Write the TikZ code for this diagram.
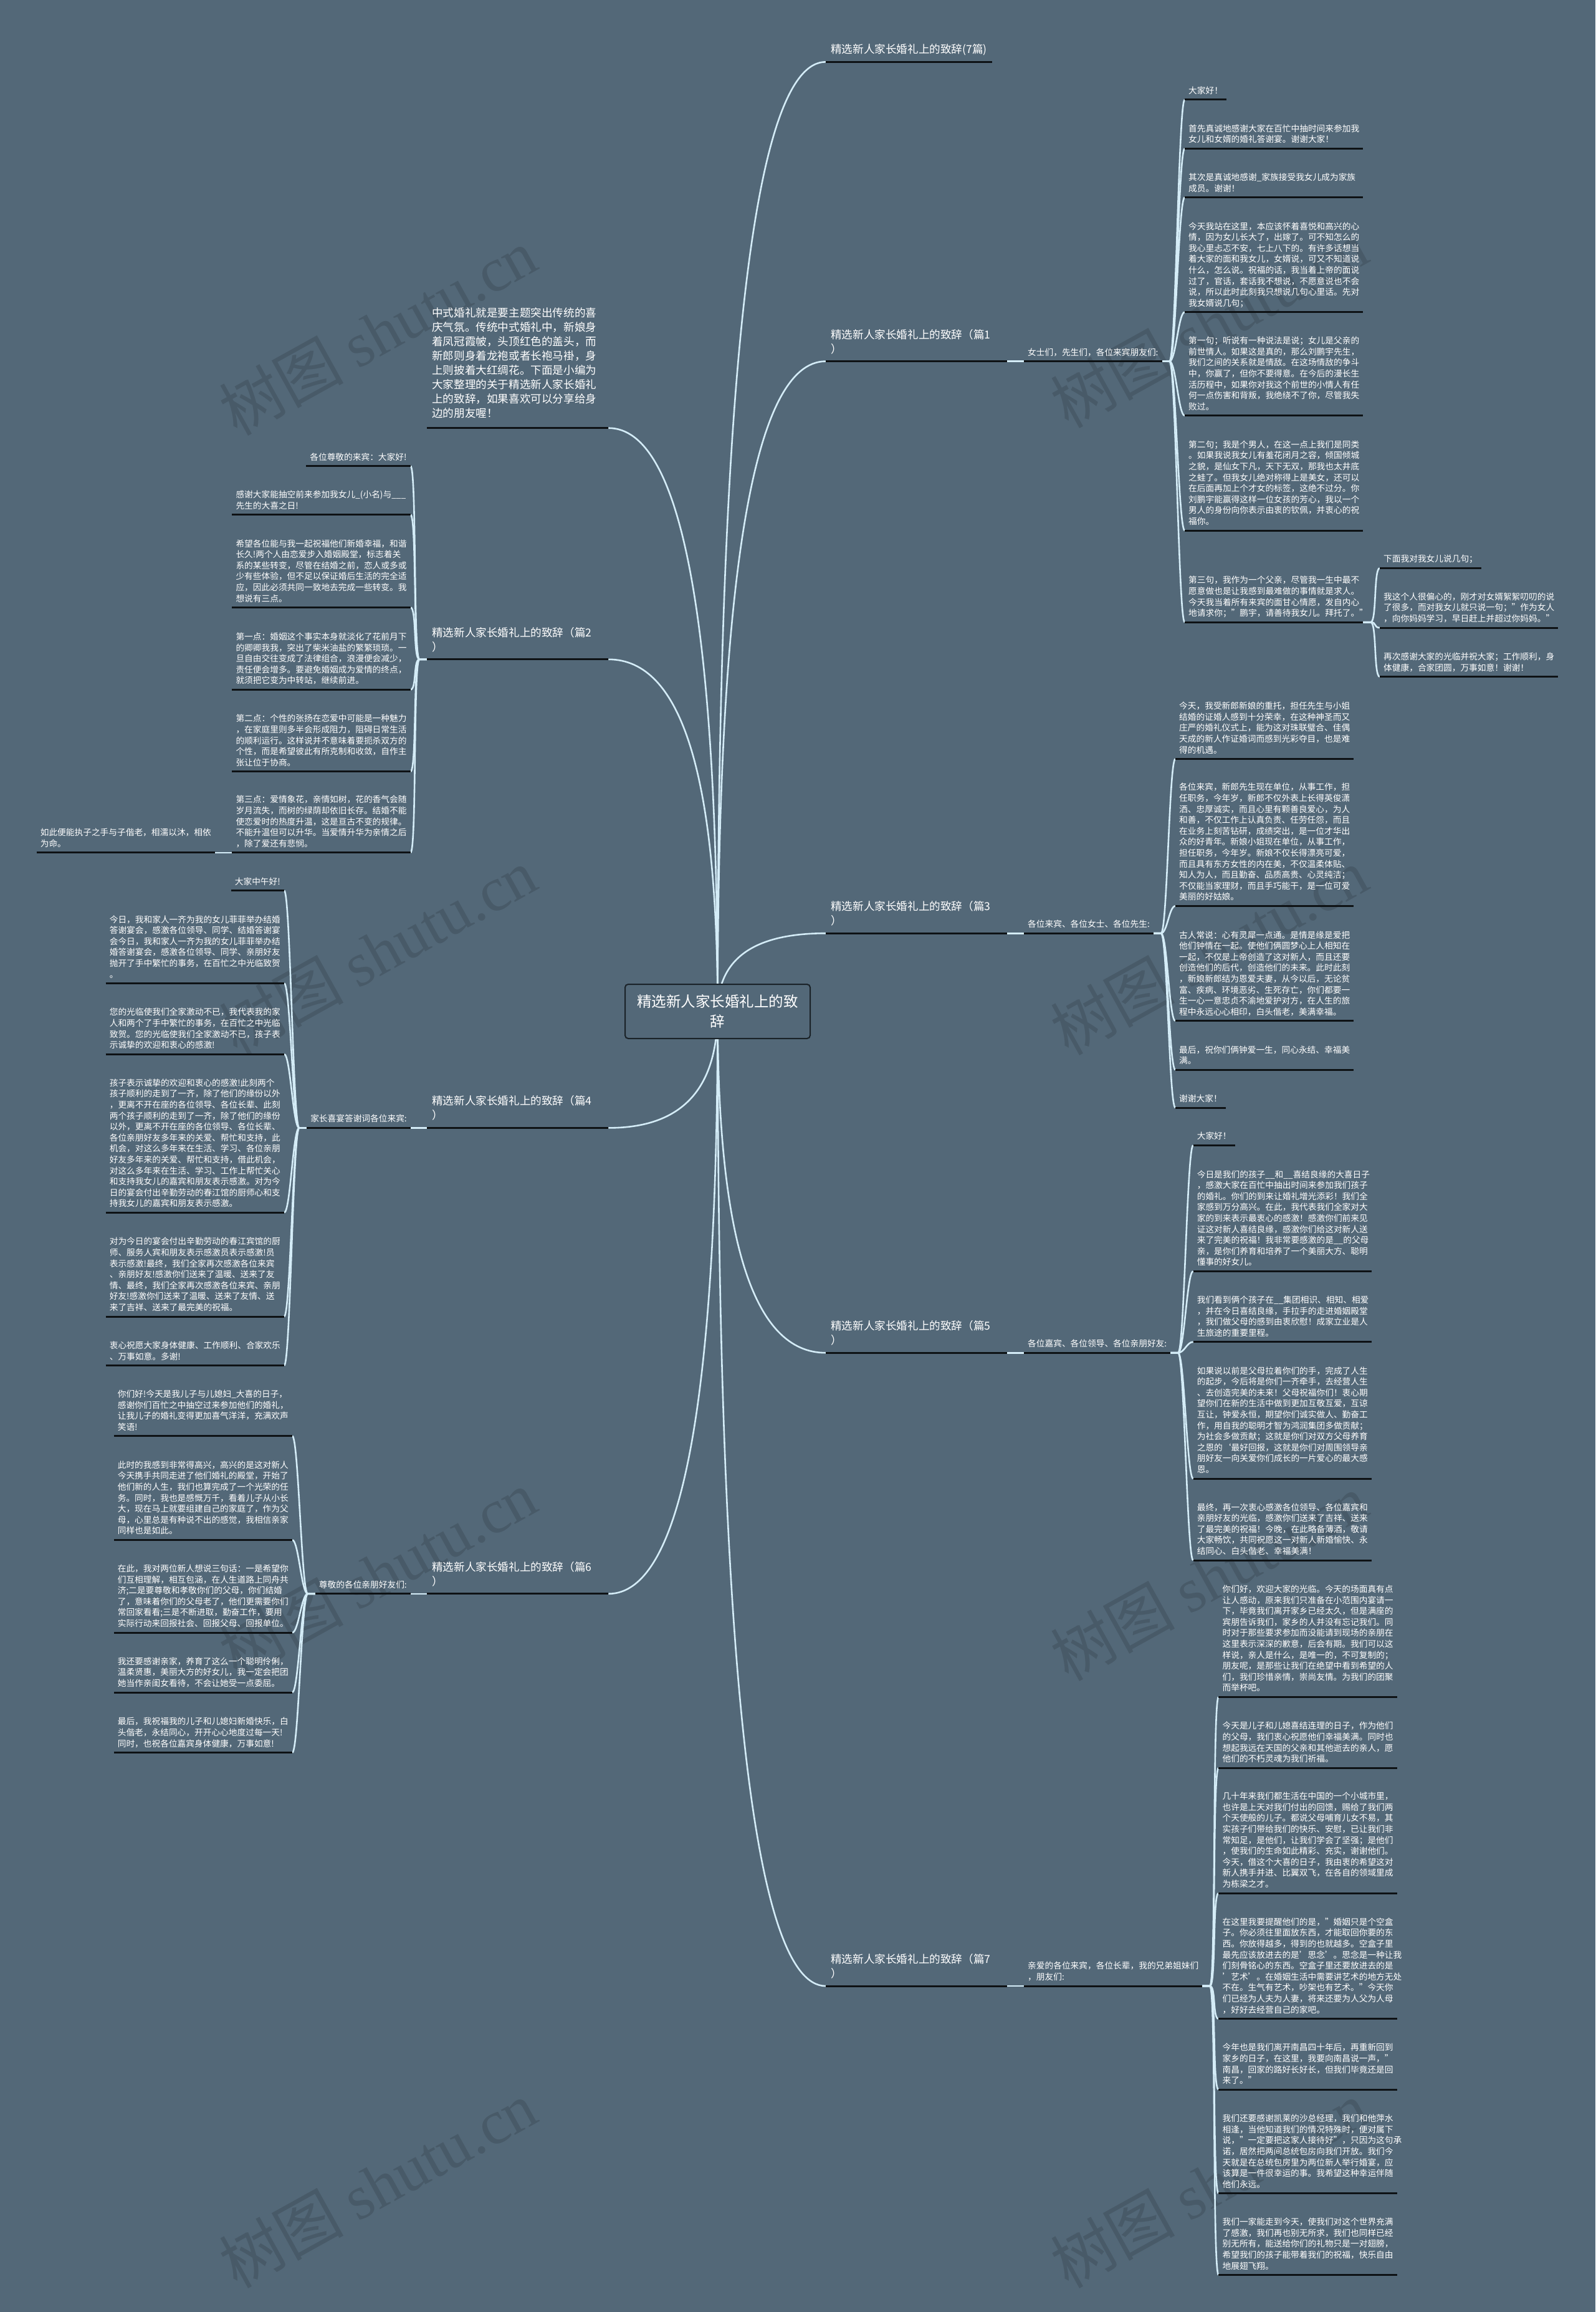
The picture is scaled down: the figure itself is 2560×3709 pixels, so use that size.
\documentclass[tikz,border=0pt]{standalone}
\usepackage{fontspec}
\setmainfont{Noto Sans CJK SC}
\newfontfamily\markserif{Liberation Serif}
\usetikzlibrary{calc,backgrounds}
\definecolor{Canvas}{HTML}{536878}
\definecolor{Wire}{HTML}{D4ECF7}
\definecolor{Ink}{HTML}{0E1215}
\definecolor{RootEdge}{HTML}{1A2228}
\newcommand\leaffont{\fontsize{13.7pt}{17.6pt}\selectfont}
\newcommand\branchfont{\fontsize{17.6pt}{23pt}\selectfont}
\newcommand\rootfont{\fontsize{23.5pt}{31.7pt}\selectfont}
\newcommand\markfont{\fontsize{100pt}{100pt}\selectfont}
\newcommand\leafdp{\rule[-9.3pt]{0pt}{9.3pt}}
\newcommand\branchdp{\rule[-13.3pt]{0pt}{13.3pt}}
\newcommand\introdp{\rule[-16.6pt]{0pt}{16.6pt}}
\tikzset{
  note/.style={align=left, inner xsep=6pt, inner ysep=0pt, text=white, font=\leaffont, execute at end node=\leafdp},
  leaf/.style={note, text width=274pt},
  topic/.style={align=left, inner xsep=8pt, inner ysep=0pt, text=white, font=\branchfont, execute at end node=\branchdp},
  topicw/.style={topic, text width=275pt},
  wire/.style={draw=Wire, line width=2.6pt},
  uline/.style={draw=Ink, line width=3pt},
  wmark/.style={text=black, text opacity=.13, font=\markfont}
}
\begin{document}
\begin{tikzpicture}[x=1pt, y=-1pt]
\useasboundingbox (0,0) rectangle (2560,3709);
\node[draw=RootEdge, fill=Canvas, line width=2pt, rounded corners=5pt, minimum width=297pt, minimum height=87pt, inner sep=0pt, align=center, text=white, font=\rootfont] (root) at (1151.5,1622.5) {精选新人家长婚礼上的致\\辞};

\node[topic, anchor=south west] (b0) at (1325,99.3) {精选新人家长婚礼上的致辞(7篇)};
\node[topicw, anchor=south west] (b1) at (1325,579.6) {精选新人家长婚礼上的致辞（篇1\\）};
\node[topicw, anchor=south west] (b3) at (1325,1497.2) {精选新人家长婚礼上的致辞（篇3\\）};
\node[topicw, anchor=south west] (b5) at (1325,2170.2) {精选新人家长婚礼上的致辞（篇5\\）};
\node[topicw, anchor=south west] (b7) at (1325,3186) {精选新人家长婚礼上的致辞（篇7\\）};
\node[topicw, anchor=south west, execute at end node=\introdp] (intro) at (685,686.7) {中式婚礼就是要主题突出传统的喜\\庆气氛。传统中式婚礼中，新娘身\\着凤冠霞帔，头顶红色的盖头，而\\新郎则身着龙袍或者长袍马褂，身\\上则披着大红绸花。下面是小编为\\大家整理的关于精选新人家长婚礼\\上的致辞，如果喜欢可以分享给身\\边的朋友喔！};
\node[topicw, anchor=south west] (b2) at (685,1057.8) {精选新人家长婚礼上的致辞（篇2\\）};
\node[topicw, anchor=south west] (b4) at (685,1809.4) {精选新人家长婚礼上的致辞（篇4\\）};
\node[topicw, anchor=south west] (b6) at (685,2556.8) {精选新人家长婚礼上的致辞（篇6\\）};

\node[note, anchor=south west] (h1) at (1643,579.6) {女士们，先生们，各位来宾朋友们:};
\node[note, anchor=south west] (h3) at (1643,1497.2) {各位来宾、各位女士、各位先生:};
\node[note, anchor=south west] (h5) at (1643,2170.2) {各位嘉宾、各位领导、各位亲朋好友:};
\node[leaf, anchor=south west] (h7) at (1643,3186) {亲爱的各位来宾，各位长辈，我的兄弟姐妹们\\，朋友们:};
\node[note, anchor=south east] (g4) at (659,1809.4) {家长喜宴答谢词各位来宾:};
\node[note, anchor=south east] (g6) at (659,2556.8) {尊敬的各位亲朋好友们:};

\node[note, anchor=south west] (a1) at (1901,160) {大家好！};
\node[leaf, anchor=south west] (a2) at (1901,238.3) {首先真诚地感谢大家在百忙中抽时间来参加我\\女儿和女婿的婚礼答谢宴。谢谢大家！};
\node[leaf, anchor=south west] (a3) at (1901,316.7) {其次是真诚地感谢\_家族接受我女儿成为家族\\成员。谢谢！};
\node[leaf, anchor=south west] (a4) at (1901,500.7) {今天我站在这里，本应该怀着喜悦和高兴的心\\情，因为女儿长大了，出嫁了。可不知怎么的\\我心里忐忑不安，七上八下的。有许多话想当\\着大家的面和我女儿，女婿说，可又不知道说\\什么，怎么说。祝福的话，我当着上帝的面说\\过了，官话，套话我不想说，不愿意说也不会\\说，所以此时此刻我只想说几句心里话。先对\\我女婿说几句；};
\node[leaf, anchor=south west] (a5) at (1901,666.8) {第一句；听说有一种说法是说；女儿是父亲的\\前世情人。如果这是真的，那么刘鹏宇先生，\\我们之间的关系就是情敌。在这场情敌的争斗\\中，你赢了，但你不要得意。在今后的漫长生\\活历程中，如果你对我这个前世的小情人有任\\何一点伤害和背叛，我绝绕不了你，尽管我失\\败过。};
\node[leaf, anchor=south west] (a6) at (1901,851) {第二句；我是个男人，在这一点上我们是同类\\。如果我说我女儿有羞花闭月之容，倾国倾城\\之貌，是仙女下凡，天下无双，那我也太井底\\之蛙了。但我女儿绝对称得上是美女，还可以\\在后面再加上个才女的标签，这绝不过分。你\\刘鹏宇能赢得这样一位女孩的芳心，我以一个\\男人的身份向你表示由衷的钦佩，并衷心的祝\\福你。};
\node[leaf, anchor=south west] (a7) at (1901,998.2) {第三句，我作为一个父亲，尽管我一生中最不\\愿意做也是让我感到最难做的事情就是求人。\\今天我当着所有来宾的面甘心情愿，发自内心\\地请求你；"鹏宇，请善待我女儿。拜托了。"};
\node[note, anchor=south west] (a8) at (2214,911.4) {下面我对我女儿说几句；};
\node[leaf, anchor=south west] (a9) at (2214,1007) {我这个人很偏心的，刚才对女婿絮絮叨叨的说\\了很多，而对我女儿就只说一句；"作为女人\\，向你妈妈学习，早日赶上并超过你妈妈。"};
\node[leaf, anchor=south west] (a10) at (2214,1085.7) {再次感谢大家的光临并祝大家；工作顺利，身\\体健康，合家团圆，万事如意！谢谢！};

\node[leaf, anchor=south west] (c1) at (1886,1217.5) {今天，我受新郎新娘的重托，担任先生与小姐\\结婚的证婚人感到十分荣幸，在这种神圣而又\\庄严的婚礼仪式上，能为这对珠联璧合、佳偶\\天成的新人作证婚词而感到光彩夺目，也是难\\得的机遇。};
\node[leaf, anchor=south west] (c2) at (1886,1453.4) {各位来宾，新郎先生现在单位，从事工作，担\\任职务，今年岁，新郎不仅外表上长得英俊潇\\洒、忠厚诚实，而且心里有颗善良爱心，为人\\和善，不仅工作上认真负责、任劳任怨，而且\\在业务上刻苦钻研，成绩突出，是一位才华出\\众的好青年。新娘小姐现在单位，从事工作，\\担任职务，今年岁。新娘不仅长得漂亮可爱，\\而且具有东方女性的内在美，不仅温柔体贴、\\知人为人，而且勤奋、品质高贵、心灵纯洁；\\不仅能当家理财，而且手巧能干，是一位可爱\\美丽的好姑娘。};
\node[leaf, anchor=south west] (c3) at (1886,1637.8) {古人常说：心有灵犀一点通。是情是缘是爱把\\他们钟情在一起。使他们俩圆梦心上人相知在\\一起，不仅是上帝创造了这对新人，而且还要\\创造他们的后代，创造他们的未来。此时此刻\\，新娘新郎结为恩爱夫妻，从今以后，无论贫\\富、疾病、环境恶劣、生死存亡，你们都要一\\生一心一意忠贞不渝地爱护对方，在人生的旅\\程中永远心心相印，白头偕老，美满幸福。};
\node[leaf, anchor=south west] (c4) at (1886,1716.2) {最后，祝你们俩钟爱一生，同心永结、幸福美\\满。};
\node[note, anchor=south west] (c5) at (1886,1777) {谢谢大家！};

\node[note, anchor=south west] (d1) at (1914.6,1837.3) {大家好！};
\node[leaf, anchor=south west] (d2) at (1914.6,2039.3) {今日是我们的孩子\_\_和\_\_喜结良缘的大喜日子\\，感激大家在百忙中抽出时间来参加我们孩子\\的婚礼。你们的到来让婚礼增光添彩！我们全\\家感到万分高兴。在此，我代表我们全家对大\\家的到来表示最衷心的感激！感激你们前来见\\证这对新人喜结良缘，感激你们给这对新人送\\来了完美的祝福！我非常要感激的是\_\_的父母\\亲，是你们养育和培养了一个美丽大方、聪明\\懂事的好女儿。};
\node[leaf, anchor=south west] (d3) at (1914.6,2152.7) {我们看到俩个孩子在\_\_集团相识、相知、相爱\\，并在今日喜结良缘，手拉手的走进婚姻殿堂\\，我们做父母的感到由衷欣慰！成家立业是人\\生旅途的重要里程。};
\node[leaf, anchor=south west] (d4) at (1914.6,2372) {如果说以前是父母拉着你们的手，完成了人生\\的起步，今后将是你们一齐牵手，去经营人生\\、去创造完美的未来！父母祝福你们！衷心期\\望你们在新的生活中做到更加互敬互爱，互谅\\互让，钟爱永恒，期望你们诚实做人、勤奋工\\作，用自我的聪明才智为鸿润集团多做贡献；\\为社会多做贡献；这就是你们对双方父母养育\\之恩的`最好回报，这就是你们对周围领导亲\\朋好友一向关爱你们成长的一片爱心的最大感\\恩。};
\node[leaf, anchor=south west] (d5) at (1914.6,2503) {最终，再一次衷心感激各位领导、各位嘉宾和\\亲朋好友的光临，感激你们送来了吉祥、送来\\了最完美的祝福！今晚，在此略备薄酒，敬请\\大家畅饮，共同祝愿这一对新人新婚愉快、永\\结同心、白头偕老、幸福美满！};

\node[leaf, anchor=south west] (e1) at (1955.4,2722.3) {你们好，欢迎大家的光临。今天的场面真有点\\让人感动，原来我们只准备在小范围内宴请一\\下，毕竟我们离开家乡已经太久，但是满座的\\宾朋告诉我们，家乡的人并没有忘记我们。同\\时对于那些要求参加而没能请到现场的亲朋在\\这里表示深深的歉意，后会有期。我们可以这\\样说，亲人是什么，是唯一的，不可复制的；\\朋友呢，是那些让我们在绝望中看到希望的人\\们，我们珍惜亲情，崇尚友情。为我们的团聚\\而举杯吧。};
\node[leaf, anchor=south west] (e2) at (1955.4,2836.2) {今天是儿子和儿媳喜结连理的日子，作为他们\\的父母，我们衷心祝愿他们幸福美满。同时也\\想起我远在天国的父亲和其他逝去的亲人，愿\\他们的不朽灵魂为我们祈福。};
\node[leaf, anchor=south west] (e3) at (1955.4,3037) {几十年来我们都生活在中国的一个小城市里，\\也许是上天对我们付出的回馈，赐给了我们两\\个天使般的儿子。都说父母哺育儿女不易，其\\实孩子们带给我们的快乐、安慰，已让我们非\\常知足，是他们，让我们学会了坚强；是他们\\，使我们的生命如此精彩、充实，谢谢他们。\\今天，借这个大喜的日子，我由衷的希望这对\\新人携手并进、比翼双飞，在各自的领域里成\\为栋梁之才。};
\node[leaf, anchor=south west] (e4) at (1955.4,3238.6) {在这里我要提醒他们的是，"婚姻只是个空盒\\子。你必须往里面放东西，才能取回你要的东\\西。你放得越多，得到的也就越多。空盒子里\\最先应该放进去的是'思念'。思念是一种让我\\们刻骨铭心的东西。空盒子里还要放进去的是\\'艺术'。在婚姻生活中需要讲艺术的地方无处\\不在。生气有艺术，吵架也有艺术。"今天你\\们已经为人夫为人妻，将来还要为人父为人母\\，好好去经营自己的家吧。};
\node[leaf, anchor=south west] (e5) at (1955.4,3352.2) {今年也是我们离开南昌四十年后，再重新回到\\家乡的日子，在这里，我要向南昌说一声，"\\南昌，回家的路好长好长，但我们毕竟还是回\\来了。"};
\node[leaf, anchor=south west] (e6) at (1955.4,3518.8) {我们还要感谢凯莱的沙总经理，我们和他萍水\\相逢，当他知道我们的情况特殊时，便对属下\\说，"一定要把这家人接待好"，只因为这句承\\诺，居然把两间总统包房向我们开放。我们今\\天就是在总统包房里为两位新人举行婚宴，应\\该算是一件很幸运的事。我希望这种幸运伴随\\他们永远。};
\node[leaf, anchor=south west] (e7) at (1955.4,3649.6) {我们一家能走到今天，使我们对这个世界充满\\了感激，我们再也别无所求，我们也同样已经\\别无所有，能送给你们的礼物只是一对翅膀，\\希望我们的孩子能带着我们的祝福，快乐自由\\地展翅飞翔。};

\node[note, anchor=south east] (l1) at (658.7,747.7) {各位尊敬的来宾：大家好!};
\node[leaf, anchor=south east] (l2) at (658.7,825.8) {感谢大家能抽空前来参加我女儿\_(小名)与\_\_\_\\先生的大喜之日!};
\node[leaf, anchor=south east] (l3) at (658.7,974.5) {希望各位能与我一起祝福他们新婚幸福，和谐\\长久!两个人由恋爱步入婚姻殿堂，标志着关\\系的某些转变，尽管在结婚之前，恋人或多或\\少有些体验，但不足以保证婚后生活的完全适\\应，因此必须共同一致地去完成一些转变。我\\想说有三点。};
\node[leaf, anchor=south east] (l4) at (658.7,1106.3) {第一点：婚姻这个事实本身就淡化了花前月下\\的卿卿我我，突出了柴米油盐的繁繁琐琐。一\\旦自由交往变成了法律组合，浪漫便会减少，\\责任便会增多。要避免婚姻成为爱情的终点，\\就须把它变为中转站，继续前进。};
\node[leaf, anchor=south east] (l5) at (658.7,1237.7) {第二点：个性的张扬在恋爱中可能是一种魅力\\，在家庭里则多半会形成阻力，阻碍日常生活\\的顺利运行。这样说并不意味着要扼杀双方的\\个性，而是希望彼此有所克制和收敛，自作主\\张让位于协商。};
\node[leaf, anchor=south east] (l6) at (658.7,1367.8) {第三点：爱情象花，亲情如树，花的香气会随\\岁月流失，而树的绿荫却依旧长存。结婚不能\\使恋爱时的热度升温，这是亘古不变的规律。\\不能升温但可以升华。当爱情升华为亲情之后\\，除了爱还有悲悯。};
\node[leaf, anchor=south east] (l7) at (345,1367.8) {如此便能执子之手与子偕老，相濡以沐，相依\\为命。};

\node[note, anchor=south east] (k1) at (456,1428.7) {大家中午好!};
\node[leaf, anchor=south east] (k2) at (456,1577.5) {今日，我和家人一齐为我的女儿菲菲举办结婚\\答谢宴会，感激各位领导、同学、结婚答谢宴\\会今日，我和家人一齐为我的女儿菲菲举办结\\婚答谢宴会，感激各位领导、同学、亲朋好友\\抛开了手中繁忙的事务，在百忙之中光临致贺\\。};
\node[leaf, anchor=south east] (k3) at (456,1691.1) {您的光临使我们全家激动不已，我代表我的家\\人和两个了手中繁忙的事务，在百忙之中光临\\致贺。您的光临使我们全家激动不已，孩子表\\示诚挚的欢迎和衷心的感激!};
\node[leaf, anchor=south east] (k4) at (456,1945.3) {孩子表示诚挚的欢迎和衷心的感激!此刻两个\\孩子顺利的走到了一齐，除了他们的缘份以外\\，更离不开在座的各位领导、各位长辈、此刻\\两个孩子顺利的走到了一齐，除了他们的缘份\\以外，更离不开在座的各位领导、各位长辈、\\各位亲朋好友多年来的关爱、帮忙和支持，此\\机会，对这么多年来在生活、学习、各位亲朋\\好友多年来的关爱、帮忙和支持，借此机会，\\对这么多年来在生活、学习、工作上帮忙关心\\和支持我女儿的嘉宾和朋友表示感激。对为今\\日的宴会付出辛勤劳动的春江馆的厨师心和支\\持我女儿的嘉宾和朋友表示感激。};
\node[leaf, anchor=south east] (k5) at (456,2112) {对为今日的宴会付出辛勤劳动的春江宾馆的厨\\师、服务人宾和朋友表示感激员表示感激!员\\表示感激!最终，我们全家再次感激各位来宾\\、亲朋好友!感激你们送来了温暖、送来了友\\情、最终，我们全家再次感激各位来宾、亲朋\\好友!感激你们送来了温暖、送来了友情、送\\来了吉祥、送来了最完美的祝福。};
\node[leaf, anchor=south east] (k6) at (456,2190.6) {衷心祝愿大家身体健康、工作顺利、合家欢乐\\、万事如意。多谢!};

\node[leaf, anchor=south east] (m1) at (469,2303.7) {你们好!今天是我儿子与儿媳妇\_大喜的日子，\\感谢你们百忙之中抽空过来参加他们的婚礼，\\让我儿子的婚礼变得更加喜气洋洋，充满欢声\\笑语!};
\node[leaf, anchor=south east] (m2) at (469,2470.4) {此时的我感到非常得高兴，高兴的是这对新人\\今天携手共同走进了他们婚礼的殿堂，开始了\\他们新的人生，我们也算完成了一个光荣的任\\务。同时，我也是感慨万千，看着儿子从小长\\大，现在马上就要组建自己的家庭了，作为父\\母，心里总是有种说不出的感觉，我相信亲家\\同样也是如此。};
\node[leaf, anchor=south east] (m3) at (469,2619) {在此，我对两位新人想说三句话：一是希望你\\们互相理解，相互包涵，在人生道路上同舟共\\济;二是要尊敬和孝敬你们的父母，你们结婚\\了，意味着你们的父母老了，他们更需要你们\\常回家看看;三是不断进取，勤奋工作，要用\\实际行动来回报社会、回报父母、回报单位。};
\node[leaf, anchor=south east] (m4) at (469,2715) {我还要感谢亲家，养育了这么一个聪明伶俐，\\温柔贤惠，美丽大方的好女儿，我一定会把团\\她当作亲闺女看待，不会让她受一点委屈。};
\node[leaf, anchor=south east] (m5) at (469,2811.5) {最后，我祝福我的儿子和儿媳妇新婚快乐，白\\头偕老，永结同心，开开心心地度过每一天!\\同时，也祝各位嘉宾身体健康，万事如意!};

\begin{scope}[on background layer]
  \fill[Canvas] (0,0) rectangle (2560,3709);
  \foreach \x/\y [count=\i] in {606/532, 1940/520, 606/1526, 1940/1526, 606/2524, 1940/2530, 606/3504, 1940/3504}
    \node[wmark, rotate=29] (wm\i) at (\x,\y) {树图 {\markserif shutu.cn}};
  \foreach \b in {b0,b1,b3,b5,b7}
    \draw[wire] (root.center) .. controls ($(root.center)!.67!(root.center |- \b.south west)$) and ($(\b.south west)!.67!(root.center |- \b.south west)$) .. (\b.south west);
  \foreach \b in {intro,b2,b4,b6}
    \draw[wire] (root.center) .. controls ($(root.center)!.67!(root.center |- \b.south east)$) and ($(\b.south east)!.67!(root.center |- \b.south east)$) .. (\b.south east);
  \foreach \b/\h in {b1/h1,b3/h3,b5/h5,b7/h7}
    \draw[wire] (\b.south east) -- (\h.south west);
  \foreach \b/\h in {b4/g4,b6/g6}
    \draw[wire] (\b.south west) -- (\h.south east);
  \foreach \h/\l in {h1/a1,h1/a2,h1/a3,h1/a4,h1/a5,h1/a6,h1/a7,a7/a8,a7/a9,a7/a10,h3/c1,h3/c2,h3/c3,h3/c4,h3/c5,h5/d1,h5/d2,h5/d3,h5/d4,h5/d5,h7/e1,h7/e2,h7/e3,h7/e4,h7/e5,h7/e6,h7/e7}
    \draw[wire] (\h.south east) -- ++(12,0) .. controls +(10,0) and +(-10,0) .. (\l.south west);
  \foreach \h/\l in {b2/l1,b2/l2,b2/l3,b2/l4,b2/l5,b2/l6,l6/l7,g4/k1,g4/k2,g4/k3,g4/k4,g4/k5,g4/k6,g6/m1,g6/m2,g6/m3,g6/m4,g6/m5}
    \draw[wire] (\h.south west) -- ++(-12,0) .. controls +(-10,0) and +(10,0) .. (\l.south east);
\end{scope}

\foreach \n in {b0,b1,b2,b3,b4,b5,b6,b7,intro,h1,h3,h5,h7,g4,g6,a1,a2,a3,a4,a5,a6,a7,a8,a9,a10,c1,c2,c3,c4,c5,d1,d2,d3,d4,d5,e1,e2,e3,e4,e5,e6,e7,l1,l2,l3,l4,l5,l6,l7,k1,k2,k3,k4,k5,k6,m1,m2,m3,m4,m5}
  \draw[uline] (\n.south west) -- (\n.south east);
\end{tikzpicture}
\end{document}
